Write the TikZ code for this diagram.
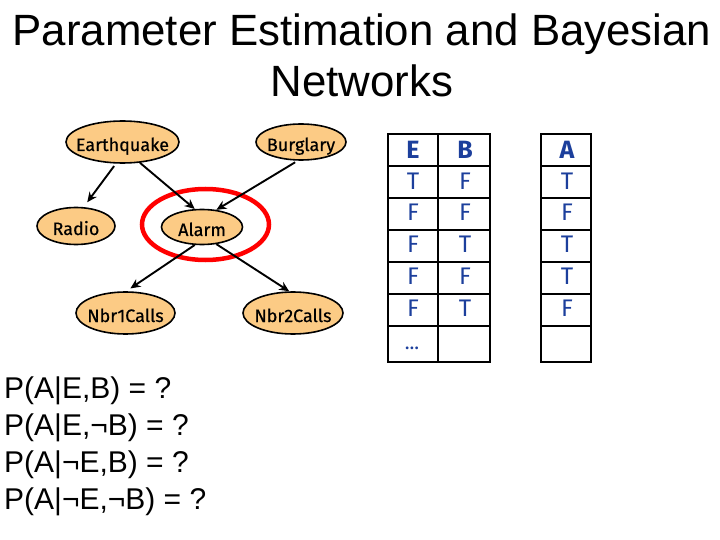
\documentclass[tikz,border=0pt]{standalone}
\usepackage{fontspec}
\setmainfont{Liberation Sans}
\newfontfamily\netfont{Fira Sans}
\newfontfamily\labelfont[FakeBold=0.5]{Fira Sans}
\usetikzlibrary{shapes.geometric, arrows.meta}
\definecolor{netfill}{HTML}{FCCB85}
\definecolor{cellblue}{HTML}{1C3F9C}
\tikzset{
    netnode/.style={ellipse, draw=black, line width=1.6pt, fill=netfill, inner sep=0pt,
        text height=18pt, text depth=0pt, font=\labelfont\fontsize{18}{20}\selectfont},
    netedge/.style={-{Stealth[length=10pt, width=9pt]}, line width=1.9pt},
    cell/.style={text=cellblue, font=\netfont\fontsize{24}{26}\selectfont},
    headcell/.style={text=cellblue, font=\netfont\bfseries\fontsize{25}{26}\selectfont},
    gridline/.style={line width=2pt}
}
\begin{document}
\begin{tikzpicture}[x=1pt, y=-1pt]
    \useasboundingbox (0,0) rectangle (720,540);

    \node (title) [align=center, font=\fontsize{43.8}{51}\selectfont] at (362,55)
        {Parameter Estimation and Bayesian\\Networks};

    \node (ring) [ellipse, draw=red, line width=4.5pt, minimum width=127pt, minimum height=71pt] at (205.5,224.5) {};

    \node (earthquake) [netnode, minimum width=113pt, minimum height=42pt] at (122.5,142) {\makebox[0pt]{Earthquake}};
    \node (burglary) [netnode, minimum width=90pt, minimum height=36pt] at (301,142) {\makebox[0pt]{Burglary}};
    \node (radio) [netnode, minimum width=78pt, minimum height=37pt] at (76,226) {\makebox[0pt]{Radio}};
    \node (alarm) [netnode, minimum width=81pt, minimum height=35pt] at (202,227) {\makebox[0pt]{Alarm}};
    \node (nbrone) [netnode, minimum width=99pt, minimum height=42pt] at (125.5,313) {\makebox[0pt]{Nbr1Calls}};
    \node (nbrtwo) [netnode, minimum width=100pt, minimum height=42pt] at (293,313) {\makebox[0pt]{Nbr2Calls}};

    \draw[netedge, shorten <=3pt, shorten >=6pt] (earthquake.-107) -- (radio.68);
    \draw[netedge] (earthquake.-50) -- (alarm.112);
    \draw[netedge, shorten <=3pt] (burglary.-100) -- (alarm.50);
    \draw[netedge, shorten >=5pt] (alarm.-112) -- (nbrone.88);
    \draw[netedge] (alarm.-50) -- (nbrtwo.100);

    \draw[gridline] (388,134) -- (388,362);
    \draw[gridline] (438,134) -- (438,362);
    \draw[gridline] (490,134) -- (490,362);
    \draw[gridline] (541,134) -- (541,362);
    \draw[gridline] (591,134) -- (591,362);

    \draw[gridline] (387,134) -- (491,134);
    \draw[gridline] (387,166) -- (491,166);
    \draw[gridline] (387,198) -- (491,198);
    \draw[gridline] (387,230) -- (491,230);
    \draw[gridline] (387,262) -- (491,262);
    \draw[gridline] (387,294) -- (491,294);
    \draw[gridline] (387,326) -- (491,326);
    \draw[gridline] (387,362) -- (491,362);

    \draw[gridline] (540,134) -- (592,134);
    \draw[gridline] (540,166) -- (592,166);
    \draw[gridline] (540,198) -- (592,198);
    \draw[gridline] (540,230) -- (592,230);
    \draw[gridline] (540,262) -- (592,262);
    \draw[gridline] (540,294) -- (592,294);
    \draw[gridline] (540,326) -- (592,326);
    \draw[gridline] (540,362) -- (592,362);

    \node (headE) [headcell] at (413,150) {E};
    \node (headB) [headcell] at (465,150) {B};
    \node (headA) [headcell] at (567,150) {A};

    \node (eone) [cell] at (413,181) {T};
    \node (etwo) [cell] at (413,212) {F};
    \node (ethree) [cell] at (413,244) {F};
    \node (efour) [cell] at (413,276) {F};
    \node (efive) [cell] at (413,308) {F};
    \node (bone) [cell] at (465,181) {F};
    \node (btwo) [cell] at (465,212) {F};
    \node (bthree) [cell] at (465,244) {T};
    \node (bfour) [cell] at (465,276) {F};
    \node (bfive) [cell] at (465,308) {T};
    \node (aone) [cell] at (567,181) {T};
    \node (atwo) [cell] at (567,212) {F};
    \node (athree) [cell] at (567,244) {T};
    \node (afour) [cell] at (567,276) {T};
    \node (afive) [cell] at (567,308) {F};
    \node (edots) [text=cellblue, font=\netfont\fontsize{20}{22}\selectfont] at (412,348) {...};

    \node (queries) [align=left, anchor=north west, inner sep=0pt, font=\fontsize{30}{37}\selectfont] at (4,376.5)
        {P(A|E,B) = ?\\P(A|E,¬B) = ?\\P(A|¬E,B) = ?\\P(A|¬E,¬B) = ?};
\end{tikzpicture}
\end{document}
